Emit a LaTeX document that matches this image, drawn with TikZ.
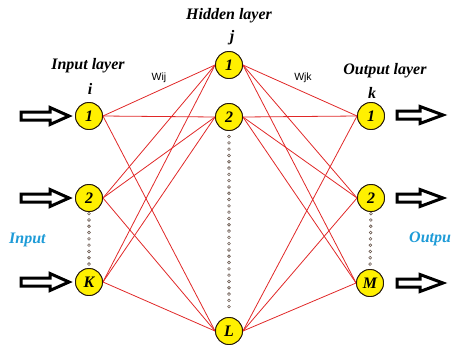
\documentclass[tikz,border=0pt]{standalone}
\usepackage{fontspec}
\setmainfont{Liberation Serif}
\newfontfamily\lsans{Liberation Sans}
\usetikzlibrary{decorations.markings}
\definecolor{nodeyel}{HTML}{FFF000}
\definecolor{edgered}{HTML}{E02828}
\definecolor{lblblue}{HTML}{1E9BD7}
\definecolor{dotbrown}{HTML}{6B5A50}
\begin{document}
\begin{tikzpicture}[x=1pt,y=-1pt,
  neuron/.style={circle,draw=black!80!brown,line width=0.9pt,fill=nodeyel,minimum size=27pt,inner sep=0pt,font=\fontsize{16}{16}\selectfont\bfseries\itshape},
  layerlbl/.style={font=\fontsize{16}{16}\selectfont\bfseries\itshape,inner sep=0pt},
  wlbl/.style={font=\lsans\fontsize{10.5}{11}\selectfont,inner sep=0pt},
  sidelbl/.style={font=\fontsize{16}{16}\selectfont\bfseries\itshape,text=lblblue,inner sep=0pt},
  link/.style={draw=edgered,line width=0.8pt},
  dotline/.style={decorate,decoration={markings,mark=between positions 0.03 and 0.97 step 6.3pt with {\draw[dotbrown,line width=0.6pt] (0,0) circle (1.4pt);}}},
  blockarrow/.style={draw=black,line width=3pt,line join=miter,fill=white}
]
\useasboundingbox (0,0) rectangle (451,349);
\clip (0,0) rectangle (451,349);
% nodes
\node[neuron] (i1) at (89,116) {1};
\node[neuron] (i2) at (89,198) {2};
\node[neuron] (iK) at (89,282) {K};
\node[neuron] (h1) at (229,65) {1};
\node[neuron] (h2) at (229,117) {2};
\node[neuron] (hL) at (229,331) {L};
\node[neuron] (o1) at (371,116) {1};
\node[neuron] (o2) at (371,198) {2};
\node[neuron] (oM) at (370,283) {M};
% links
\foreach \a in {i1,i2,iK}{\foreach \b in {h1,h2,hL}{\path[link] (\a.east) -- (\b.west);}}
\foreach \a in {h1,h2,hL}{\foreach \b in {o1,o2,oM}{\path[link] (\a.east) -- (\b.west);}}
% redraw nodes on top of links
\node[neuron] at (i1) {1};
\node[neuron] at (i2) {2};
\node[neuron] at (iK) {K};
\node[neuron] at (h1) {1};
\node[neuron] at (h2) {2};
\node[neuron] at (hL) {L};
\node[neuron] at (o1) {1};
\node[neuron] at (o2) {2};
\node[neuron] at (oM) {M};
% dotted connectors
\path[dotline] (i2.south) -- (iK.north);
\path[dotline] (h2.south) -- (hL.north);
\path[dotline] (o2.south) -- (oM.north);
% labels
\node[layerlbl] (tin) at (88,66) {Input layer};
\node[layerlbl] (ti) at (90,89) {i};
\node[layerlbl] (thid) at (229,16) {Hidden layer};
\node[layerlbl] (tj) at (232,38) {j};
\node[layerlbl] (tout) at (385,71) {Output layer};
\node[layerlbl] (tk) at (372,93) {k};
\node[wlbl] (wij) at (159,78) {Wij};
\node[wlbl] (wjk) at (303,78) {Wjk};
\node[sidelbl,anchor=west] (tinput) at (9,240) {Input};
\node[sidelbl,anchor=west] (toutput) at (409,239) {Output};
% block arrows
\foreach \n/\y in {a1/116,a2/198,a3/282}{
  \coordinate (\n) at (21,\y);
  \draw[blockarrow] (\n) ++(0,-4) -- ++(29,0) -- ++(0,-4.5) -- ++(19,8.5) -- ++(-19,8.5) -- ++(0,-4.5) -- ++(-29,0) -- cycle;
}
\foreach \n/\y in {b1/115,b2/198,b3/283}{
  \coordinate (\n) at (397,\y);
  \draw[blockarrow] (\n) ++(0,-4) -- ++(23,0) -- ++(0,-4.5) -- ++(23,8.5) -- ++(-23,8.5) -- ++(0,-4.5) -- ++(-23,0) -- cycle;
}
\end{tikzpicture}
\end{document}
